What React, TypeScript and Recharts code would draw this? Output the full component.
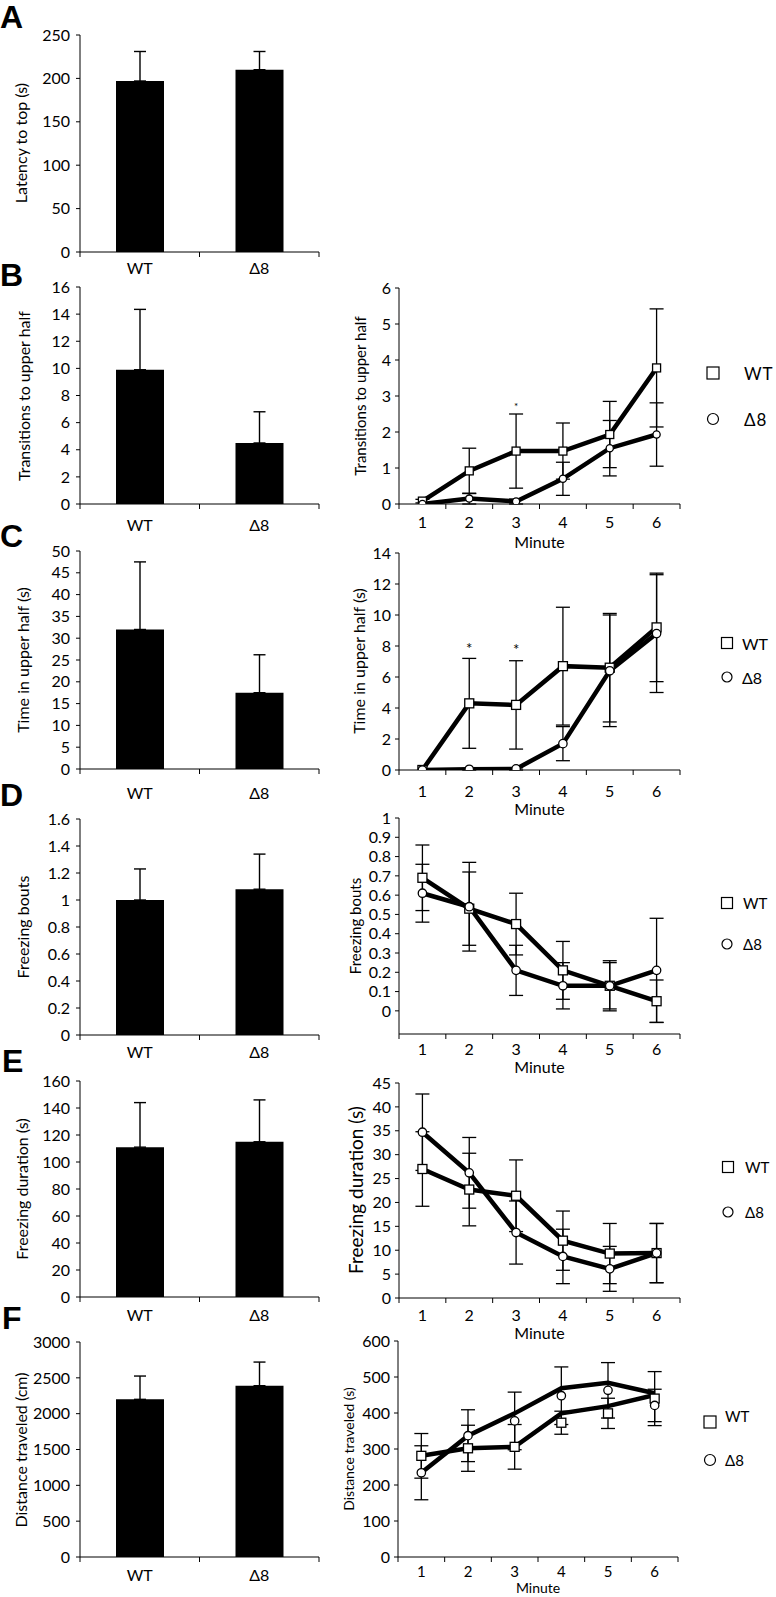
import React from "react";
import { BarChart, Bar, LineChart, Line, XAxis, YAxis, ErrorBar, ReferenceDot } from "recharts";

const FONT = "Lato, 'Open Sans', sans-serif";

// groups for the bar panels
const groups = ["WT", "Δ8"];
const minutes = [1, 2, 3, 4, 5, 6];

// A - latency to top
const latencyMean = [197, 210];
const latencyErr = [34, 21];

// B - transitions to upper half
const transMean = [9.9, 4.5];
const transErr = [4.45, 2.3];
const transWT = [0.08, 0.92, 1.47, 1.47, 1.93, 3.78];
const transWTErr = [0.05, 0.63, 1.03, 0.78, 0.92, 1.64];
const transKO = [0.0, 0.15, 0.07, 0.7, 1.55, 1.93];
const transKOErr = [0, 0.15, 0.07, 0.46, 0.77, 0.88];

// C - time in upper half
const timeMean = [32, 17.5];
const timeErr = [15.5, 8.7];
const timeWT = [0, 4.3, 4.2, 6.7, 6.6, 9.2];
const timeWTErr = [0, 2.9, 2.85, 3.8, 3.5, 3.5];
const timeKO = [0, 0.05, 0.07, 1.7, 6.4, 8.8];
const timeKOErr = [0, 0.05, 0.07, 1.1, 3.6, 3.8];

// D - freezing bouts
const boutsMean = [1.0, 1.08];
const boutsErr = [0.23, 0.26];
const boutsWT = [0.69, 0.53, 0.45, 0.21, 0.13, 0.05];
const boutsWTErr = [0.17, 0.19, 0.16, 0.15, 0.13, 0.11];
const boutsKO = [0.61, 0.54, 0.21, 0.13, 0.13, 0.21];
const boutsKOErr = [0.15, 0.23, 0.13, 0.12, 0.12, 0.27];

// E - freezing duration
const durMean = [111, 115];
const durErr = [33, 31];
const durWT = [27, 22.7, 21.4, 12, 9.3, 9.4];
const durWTErr = [7.8, 7.6, 7.5, 6.2, 6.3, 6.2];
const durKO = [34.7, 26.2, 13.7, 8.7, 6.1, 9.4];
const durKOErr = [8, 7.4, 6.6, 5.7, 4.7, 6.2];

// F - distance traveled (lines and markers do not coincide in the original)
const distMean = [2200, 2390];
const distErr = [325, 330];
const distWTLine = [281, 302, 306, 399, 419, 450];
const distWTMark = [281, 302, 306, 373, 399, 440];
const distWTErr = [62, 64, 62, 32, 42, 75];
const distKOLine = [234, 337, 399, 469, 484, 455];
const distKOMark = [234, 337, 378, 448, 463, 421];
const distKOErr = [75, 72, 80, 80, 77, 45];

// significance stars
const transStars = [{ minute: 3, y: 2.72 }];
const timeStars = [
  { minute: 2, y: 7.9 },
  { minute: 3, y: 7.8 },
];

// category tick: label at band centre, tick marks on band boundaries
const makeCatTick = (count: number, dy: number, fontSize: number, half: number) => (props: any) => {
  const { x, y, payload, index } = props;
  return (
    <g>
      <line x1={x - half} x2={x - half} y1={y} y2={y + 5} stroke="#000" strokeWidth={1} />
      {index === count - 1 && <line x1={x + half} x2={x + half} y1={y} y2={y + 5} stroke="#000" strokeWidth={1} />}
      <text x={x} y={y + dy} textAnchor="middle" dominantBaseline="central" fontSize={fontSize} fontFamily={FONT} fill="#000">
        {payload.value}
      </text>
    </g>
  );
};

const squareDot = (size: number) => (props: any) => {
  const { cx, cy, index } = props;
  if (cx == null || cy == null) return <g key={`s${index}`} />;
  return (
    <rect key={`s${index}`} x={cx - size / 2} y={cy - size / 2} width={size} height={size} fill="#fff" stroke="#000" strokeWidth={1.3} />
  );
};

const circleDot = (r: number) => (props: any) => {
  const { cx, cy, index } = props;
  if (cx == null || cy == null) return <g key={`c${index}`} />;
  return <circle key={`c${index}`} cx={cx} cy={cy} r={r} fill="#fff" stroke="#000" strokeWidth={1.3} />;
};

interface BarPanelProps {
  means: number[];
  errs: number[];
  domain: [number, number];
  ticks: number[];
  top: number;
  bottom: number;
  catDy: number;
}

function BarPanel({ means, errs, domain, ticks, top, bottom, catDy }: BarPanelProps) {
  const plotLeft = 80;
  const plotRight = 319;
  const mt = 14;
  const ph = bottom - top;
  const data = groups.map((g, i) => ({ group: g, mean: means[i], err: [0, errs[i]] }));
  return (
    <div style={{ position: "absolute", left: 0, top: top - mt }}>
      <BarChart width={plotRight + 10} height={mt + ph + 40} data={data} margin={{ top: mt, right: 10, left: 0, bottom: 0 }} barSize={48}>
        <XAxis
          dataKey="group"
          height={40}
          axisLine={{ stroke: "#000" }}
          tickLine={false}
          tickSize={0}
          tickMargin={0}
          interval={0}
          tick={makeCatTick(2, catDy, 16, (plotRight - plotLeft) / 4)}
        />
        <YAxis
          width={plotLeft}
          domain={domain}
          ticks={ticks}
          interval={0}
          axisLine={{ stroke: "#000" }}
          tickLine={{ stroke: "#000" }}
          tickSize={4}
          tickMargin={6}
          tick={{ fill: "#000", fontSize: 16, fontFamily: FONT }}
        />
        <Bar dataKey="mean" fill="#000" isAnimationActive={false}>
          <ErrorBar dataKey="err" width={6} strokeWidth={1.4} stroke="#000" direction="y" />
        </Bar>
      </BarChart>
    </div>
  );
}

interface LinePanelProps {
  wtLine: number[];
  wtMark: number[];
  wtErr: number[];
  koLine: number[];
  koMark: number[];
  koErr: number[];
  domain: [number, number];
  ticks: number[];
  top: number;
  bottom: number;
  plotLeft?: number;
  plotRight?: number;
  tickDy: number;
  tickFont?: number;
  sq: number;
  cr: number;
  stars?: { minute: number; y: number }[];
  starSize?: number;
}

function LinePanel(p: LinePanelProps) {
  const L = 300;
  const plotLeft = p.plotLeft ?? 399;
  const plotRight = p.plotRight ?? 680;
  const mt = 14;
  const ph = p.bottom - p.top;
  const data = minutes.map((m, i) => ({
    minute: m,
    wtLine: p.wtLine[i],
    wtMark: p.wtMark[i],
    wtErr: p.wtErr[i],
    koLine: p.koLine[i],
    koMark: p.koMark[i],
    koErr: p.koErr[i],
  }));
  return (
    <div style={{ position: "absolute", left: L, top: p.top - mt }}>
      <LineChart width={plotRight - L + 10} height={mt + ph + 40} data={data} margin={{ top: mt, right: 10, left: 0, bottom: 0 }}>
        <XAxis
          dataKey="minute"
          scale="band"
          height={40}
          axisLine={{ stroke: "#000" }}
          tickLine={false}
          tickSize={0}
          tickMargin={0}
          interval={0}
          tick={makeCatTick(6, p.tickDy, p.tickFont ?? 16, (plotRight - plotLeft) / 12)}
        />
        <YAxis
          width={plotLeft - L}
          domain={p.domain}
          ticks={p.ticks}
          interval={0}
          allowDataOverflow
          axisLine={{ stroke: "#000" }}
          tickLine={{ stroke: "#000" }}
          tickSize={4}
          tickMargin={4}
          tick={{ fill: "#000", fontSize: 16, fontFamily: FONT }}
        />
        <Line dataKey="wtLine" stroke="#000" strokeWidth={4.5} dot={false} isAnimationActive={false} />
        <Line dataKey="koLine" stroke="#000" strokeWidth={4.5} dot={false} isAnimationActive={false} />
        <Line dataKey="wtMark" stroke="none" dot={squareDot(p.sq)} activeDot={false} isAnimationActive={false}>
          <ErrorBar dataKey="wtErr" width={7} strokeWidth={1.3} stroke="#000" direction="y" />
        </Line>
        <Line dataKey="koMark" stroke="none" dot={circleDot(p.cr)} activeDot={false} isAnimationActive={false}>
          <ErrorBar dataKey="koErr" width={7} strokeWidth={1.3} stroke="#000" direction="y" />
        </Line>
        {(p.stars || []).map((s, i) => (
          <ReferenceDot
            key={i}
            x={s.minute}
            y={s.y}
            r={0}
            shape={(sp: any) => (
              <text x={sp.cx} y={sp.cy} textAnchor="middle" dominantBaseline="central" fontSize={p.starSize ?? 14} fontFamily={FONT} fill="#000">
                *
              </text>
            )}
          />
        ))}
      </LineChart>
    </div>
  );
}

function LegendMarks({ x, yWT, yKO, textX, fontSize, size, wtDy = 0, spacing = 0 }: any) {
  return (
    <g>
      <rect x={x - size / 2} y={yWT - size / 2} width={size} height={size} fill="#fff" stroke="#000" strokeWidth={1.2} />
      <text x={textX} y={yWT + wtDy} dominantBaseline="central" fontSize={fontSize} fontFamily={FONT} letterSpacing={spacing}>
        WT
      </text>
      <circle cx={x} cy={yKO} r={size / 2 - 0.5} fill="#fff" stroke="#000" strokeWidth={1.2} />
      <text x={textX} y={yKO} dominantBaseline="central" fontSize={fontSize} fontFamily={FONT} letterSpacing={spacing}>
        Δ8
      </text>
    </g>
  );
}

function VLabel({ x, y, text, size }: { x: number; y: number; text: string; size: number }) {
  return (
    <text x={x} y={y} transform={`rotate(-90, ${x}, ${y})`} textAnchor="middle" dominantBaseline="central" fontSize={size} fontFamily={FONT} fill="#000">
      {text}
    </text>
  );
}

function Minute({ y, x = 539.5, size = 16 }: { y: number; x?: number; size?: number }) {
  return (
    <text x={x} y={y} textAnchor="middle" dominantBaseline="central" fontSize={size} fontFamily={FONT} fill="#000">
      Minute
    </text>
  );
}

export default function App() {
  const letter = { fontSize: 32, fontWeight: 700, fontFamily: "'Liberation Sans', Arial, sans-serif" } as const;
  return (
    <div style={{ position: "relative", width: 776, height: 1597, background: "#fff", overflow: "hidden" }}>
      <style>{`body{margin:0;background:#fff}`}</style>

      <BarPanel means={latencyMean} errs={latencyErr} domain={[0, 250]} ticks={[0, 50, 100, 150, 200, 250]} top={35} bottom={252} catDy={15} />
      <BarPanel means={transMean} errs={transErr} domain={[0, 16]} ticks={[0, 2, 4, 6, 8, 10, 12, 14, 16]} top={287} bottom={504} catDy={20} />
      <BarPanel means={timeMean} errs={timeErr} domain={[0, 50]} ticks={[0, 5, 10, 15, 20, 25, 30, 35, 40, 45, 50]} top={551} bottom={769} catDy={23} />
      <BarPanel means={boutsMean} errs={boutsErr} domain={[0, 1.6]} ticks={[0, 0.2, 0.4, 0.6, 0.8, 1, 1.2, 1.4, 1.6]} top={819} bottom={1035} catDy={16} />
      <BarPanel means={durMean} errs={durErr} domain={[0, 160]} ticks={[0, 20, 40, 60, 80, 100, 120, 140, 160]} top={1081} bottom={1297} catDy={17} />
      <BarPanel means={distMean} errs={distErr} domain={[0, 3000]} ticks={[0, 500, 1000, 1500, 2000, 2500, 3000]} top={1342} bottom={1557} catDy={17} />

      <LinePanel
        wtLine={transWT} wtMark={transWT} wtErr={transWTErr}
        koLine={transKO} koMark={transKO} koErr={transKOErr}
        domain={[0, 6]} ticks={[0, 1, 2, 3, 4, 5, 6]} top={288} bottom={504} tickDy={17} sq={8} cr={3.6}
        stars={transStars} starSize={10}
      />
      <LinePanel
        wtLine={timeWT} wtMark={timeWT} wtErr={timeWTErr}
        koLine={timeKO} koMark={timeKO} koErr={timeKOErr}
        domain={[0, 14]} ticks={[0, 2, 4, 6, 8, 10, 12, 14]} top={553} bottom={770} tickDy={20} sq={9} cr={4.2}
        stars={timeStars} starSize={15}
      />
      <LinePanel
        wtLine={boutsWT} wtMark={boutsWT} wtErr={boutsWTErr}
        koLine={boutsKO} koMark={boutsKO} koErr={boutsKOErr}
        domain={[-0.12, 1]} ticks={[0, 0.1, 0.2, 0.3, 0.4, 0.5, 0.6, 0.7, 0.8, 0.9, 1]} top={818} bottom={1034} tickDy={14} sq={9} cr={4.2}
      />
      <LinePanel
        wtLine={durWT} wtMark={durWT} wtErr={durWTErr}
        koLine={durKO} koMark={durKO} koErr={durKOErr}
        domain={[0, 45]} ticks={[0, 5, 10, 15, 20, 25, 30, 35, 40, 45]} top={1083} bottom={1298} tickDy={16} sq={9} cr={4.2}
      />
      <LinePanel
        wtLine={distWTLine} wtMark={distWTMark} wtErr={distWTErr}
        koLine={distKOLine} koMark={distKOMark} koErr={distKOErr}
        domain={[0, 600]} ticks={[0, 100, 200, 300, 400, 500, 600]} top={1341} bottom={1557} plotLeft={398} plotRight={678}
        tickDy={14} tickFont={15} sq={9} cr={4.2}
      />

      <svg width={776} height={1597} style={{ position: "absolute", left: 0, top: 0, pointerEvents: "none" }}>
        <text x={0} y={28} {...letter}>A</text>
        <text x={0} y={286} {...letter}>B</text>
        <text x={0} y={547} {...letter}>C</text>
        <text x={0} y={806} {...letter}>D</text>
        <text x={2} y={1072} {...letter}>E</text>
        <text x={2} y={1329} {...letter}>F</text>

        <VLabel x={20} y={143} text="Latency to top (s)" size={16} />
        <VLabel x={23} y={396} text="Transitions to upper half" size={16} />
        <VLabel x={22} y={660} text="Time in upper half (s)" size={16} />
        <VLabel x={22} y={927} text="Freezing bouts" size={16} />
        <VLabel x={21} y={1189} text="Freezing duration (s)" size={16} />
        <VLabel x={20} y={1450} text="Distance traveled (cm)" size={16} />

        <VLabel x={360} y={396} text="Transitions to upper half" size={15} />
        <VLabel x={358} y={661} text="Time in upper half (s)" size={16} />
        <VLabel x={355} y={926} text="Freezing bouts" size={15} />
        <VLabel x={355} y={1190} text="Freezing duration (s)" size={19} />
        <VLabel x={348} y={1449} text="Distance traveled (s)" size={14} />

        <Minute y={541} />
        <Minute y={808} />
        <Minute y={1066} />
        <Minute y={1332} />
        <Minute y={1587} x={538} size={14} />

        <LegendMarks x={713} yWT={373} yKO={419} textX={744} fontSize={17} size={12} spacing={1} />
        <LegendMarks x={727} yWT={643} yKO={677} textX={742} fontSize={16} size={11} />
        <LegendMarks x={727} yWT={903} yKO={944} textX={743} fontSize={15} size={11} />
        <LegendMarks x={728} yWT={1167} yKO={1212} textX={745} fontSize={15} size={11} />
        <LegendMarks x={710} yWT={1422} yKO={1460} textX={725} fontSize={15} size={12} wtDy={-6} />
      </svg>
    </div>
  );
}
